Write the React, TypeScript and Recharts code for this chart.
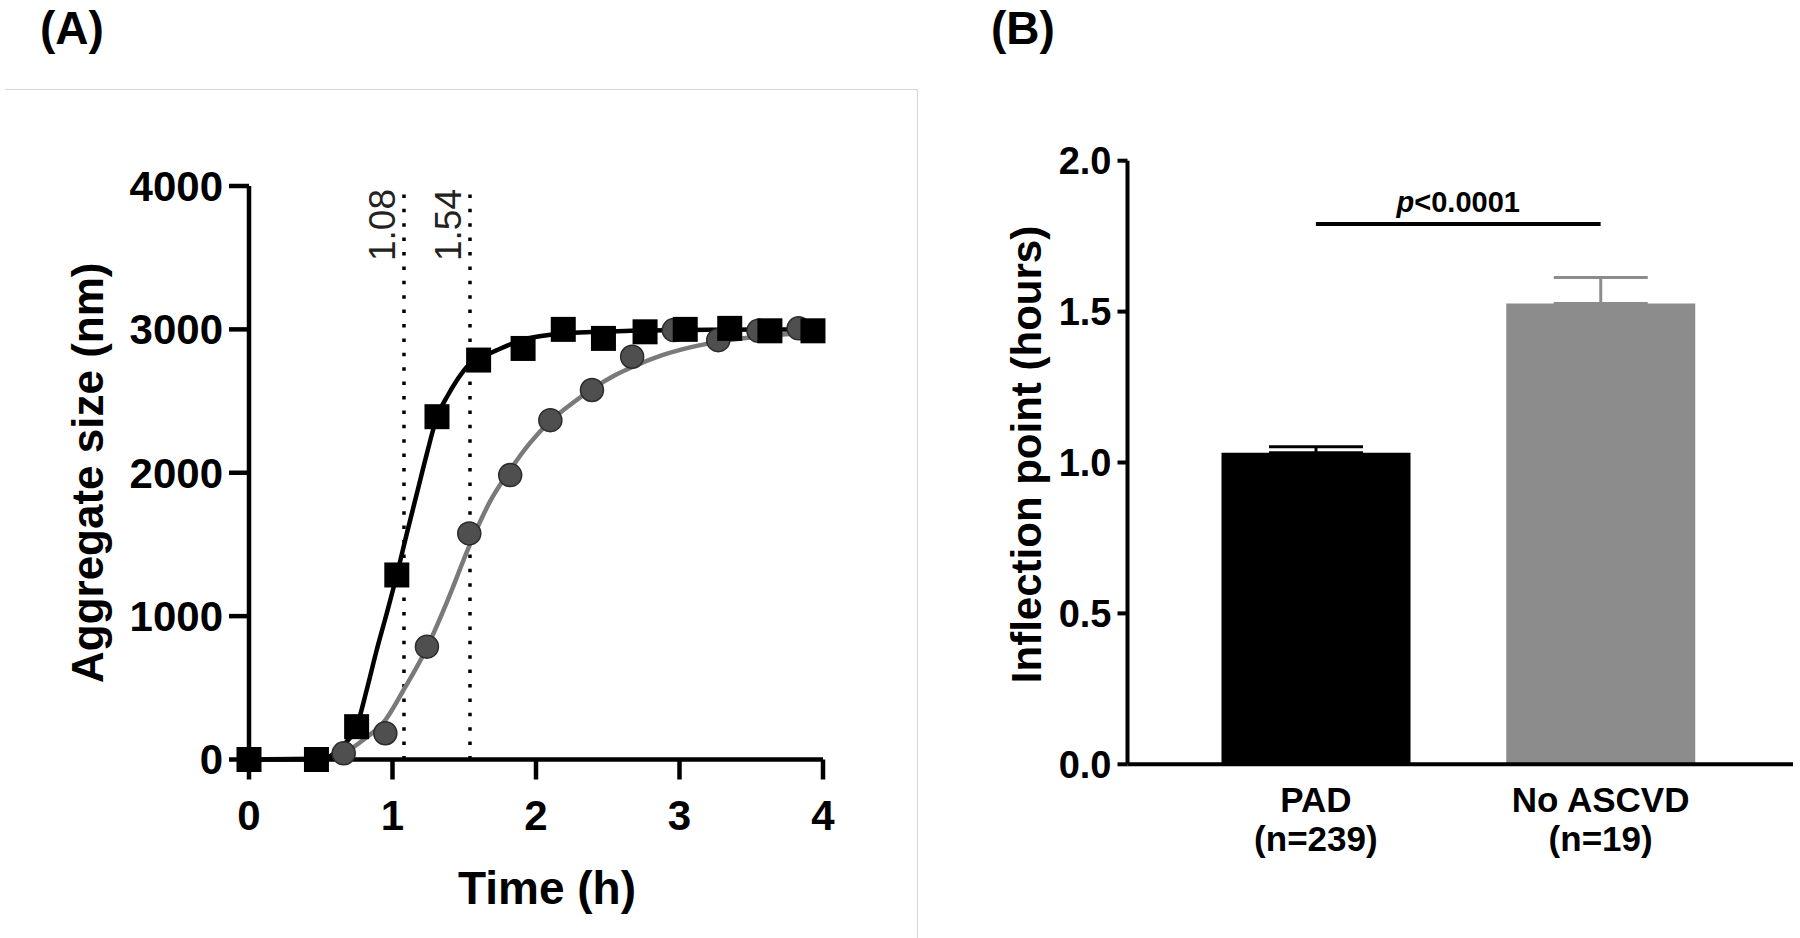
import {
  ComposedChart,
  BarChart,
  Bar,
  Cell,
  ErrorBar,
  Line,
  Scatter,
  XAxis,
  YAxis,
  ReferenceLine,
} from 'recharts';

const FONT = '"Liberation Sans", Arial, Helvetica, sans-serif';

// (A) aggregate size over time
const padTimes = [0, 0.47, 0.75, 1.03, 1.31, 1.6, 1.91, 2.19, 2.47, 2.76, 3.04, 3.35, 3.63, 3.93];
const padSizes = [0, 0, 229, 1287, 2391, 2786, 2867, 3000, 2937, 2983, 3000, 3007, 2990, 2990];
const ctrlTimes = [0.66, 0.95, 1.24, 1.535, 1.82, 2.1, 2.39, 2.67, 2.96, 3.27, 3.55, 3.83];
const ctrlSizes = [43, 183, 787, 1577, 1984, 2367, 2577, 2809, 2995, 2925, 2990, 3007];

// fitted curves
const padFitTimes = [0, 0.5, 0.56, 0.61, 0.67, 0.75, 0.82, 0.89, 0.96, 1.03, 1.1, 1.17, 1.24, 1.31, 1.38, 1.45, 1.53, 1.61, 1.73, 1.9, 2.19, 2.66, 3.2, 4.0];
const padFitSizes = [0, 2, 20, 55, 113, 229, 485, 764, 1020, 1287, 1577, 1856, 2135, 2391, 2530, 2647, 2751, 2800, 2856, 2925, 2972, 2990, 2998, 3000];
const ctrlFitTimes = [0, 0.5, 0.66, 0.8, 0.95, 1.08, 1.24, 1.38, 1.54, 1.68, 1.82, 1.96, 2.1, 2.26, 2.4, 2.55, 2.7, 2.88, 3.12, 3.35, 3.6, 4.0];
const ctrlFitSizes = [0, 10, 45, 140, 275, 490, 780, 1100, 1500, 1800, 2020, 2210, 2360, 2490, 2590, 2680, 2750, 2820, 2885, 2925, 2955, 2980];

const timeTicks = [0, 1, 2, 3, 4];
const sizeTicks = [0, 1000, 2000, 3000, 4000];
const inflections = [1.08, 1.54];

// (B) inflection point by group
const groups = ['PAD', 'No ASCVD'];
const groupN = ['(n=239)', '(n=19)'];
const inflectionMeans = [1.032, 1.527];
const inflectionSems = [0.02, 0.086];
const groupColors = ['#000000', '#8c8c8c'];
const hourTicks = [0, 0.5, 1, 1.5, 2];
const pText = '<0.0001';

const zip = (ts: number[], vs: number[]) => ts.map((t, i) => ({ t, v: vs[i] }));

const padPoints = zip(padTimes, padSizes);
const ctrlPoints = zip(ctrlTimes, ctrlSizes);
const padFit = zip(padFitTimes, padFitSizes);
const ctrlFit = zip(ctrlFitTimes, ctrlFitSizes);

const barData = groups.map((g, i) => ({
  group: g,
  mean: inflectionMeans[i],
  [`err${i}`]: [0, inflectionSems[i]],
}));

const squareShape = (p: any) => (
  <rect x={p.cx - 12.5} y={p.cy - 12.5} width={25} height={25} fill="#000" />
);

const circleShape = (p: any) => (
  <circle cx={p.cx} cy={p.cy} r={11.5} fill="#4f4f4f" stroke="#2b2b2b" strokeWidth={1.5} />
);

const inflectionLabel = (text: string) => (props: any) => {
  const vb = props.viewBox;
  if (!vb) return null;
  const x = vb.x - 9;
  const y = vb.y + 3;
  return (
    <text
      x={x}
      y={y}
      transform={`rotate(-90, ${x}, ${y})`}
      textAnchor="end"
      fontSize={37}
      fill="#222"
      fontFamily={FONT}
    >
      {text}
    </text>
  );
};

const pLabel = (props: any) => {
  const vb = props.viewBox;
  if (!vb) return null;
  return (
    <text
      x={vb.x + vb.width / 2}
      y={vb.y - 12}
      textAnchor="middle"
      fontSize={29}
      fontWeight={700}
      fill="#000"
      fontFamily={FONT}
    >
      <tspan fontStyle="italic">p</tspan>
      {pText}
    </text>
  );
};

const GroupTick = (props: any) => {
  const { x, y, payload } = props;
  const i = groups.indexOf(payload.value);
  return (
    <text x={x} y={y} textAnchor="middle" fontSize={35} fontWeight={700} fill="#000" fontFamily={FONT}>
      <tspan x={x} dy={47.5}>{payload.value}</tspan>
      <tspan x={x} dy={39}>{groupN[i]}</tspan>
    </text>
  );
};

const axisA = { stroke: '#000', strokeWidth: 4.5 };
const axisB = { stroke: '#000', strokeWidth: 4 };

function PanelA() {
  return (
    <ComposedChart width={880} height={938} margin={{ top: 186, right: 57, bottom: 28.5, left: 0 }}>
      <XAxis
        type="number"
        dataKey="t"
        domain={[0, 4]}
        ticks={timeTicks}
        height={150}
        axisLine={axisA}
        tickLine={axisA}
        tickSize={20}
        tickMargin={21}
        tick={{ fill: '#000', fontSize: 42, fontWeight: 700, fontFamily: FONT }}
        label={{
          value: 'Time (h)',
          position: 'insideBottom',
          offset: 6,
          dx: 11,
          fill: '#000',
          fontSize: 46,
          fontWeight: 700,
          fontFamily: FONT,
        }}
      />
      <YAxis
        type="number"
        dataKey="v"
        domain={[0, 4000]}
        ticks={sizeTicks}
        width={249}
        axisLine={axisA}
        tickLine={axisA}
        tickSize={20}
        tickMargin={6}
        tick={{ fill: '#000', fontSize: 42, fontWeight: 700, fontFamily: FONT }}
        label={{
          value: 'Aggregate size (nm)',
          angle: -90,
          position: 'insideLeft',
          offset: 87,
          fill: '#000',
          fontSize: 44,
          fontWeight: 700,
          fontFamily: FONT,
          style: { textAnchor: 'middle' },
        }}
      />
      {inflections.map((x) => (
        <ReferenceLine
          key={x}
          x={x}
          stroke="#000"
          strokeWidth={3.5}
          strokeDasharray="3.5 10.9"
          label={inflectionLabel(x.toFixed(2))}
        />
      ))}
      <Line
        data={ctrlFit}
        dataKey="v"
        type="monotone"
        stroke="#7a7a7a"
        strokeWidth={4.5}
        dot={false}
        activeDot={false}
        isAnimationActive={false}
      />
      <Scatter data={ctrlPoints} shape={circleShape} isAnimationActive={false} />
      <Line
        data={padFit}
        dataKey="v"
        type="monotone"
        stroke="#000"
        strokeWidth={4.5}
        dot={false}
        activeDot={false}
        isAnimationActive={false}
      />
      <Scatter data={padPoints} shape={squareShape} isAnimationActive={false} />
    </ComposedChart>
  );
}

function PanelB() {
  return (
    <BarChart
      width={900}
      height={938}
      data={barData}
      margin={{ top: 160.7, right: 7, bottom: 23.7, left: 0 }}
      barSize={189}
    >
      <XAxis
        dataKey="group"
        type="category"
        height={150}
        padding={{ left: 46, right: 50 }}
        axisLine={axisB}
        tickLine={false}
        tickSize={0}
        tickMargin={0}
        interval={0}
        tick={<GroupTick />}
      />
      <YAxis
        type="number"
        domain={[0, 2]}
        ticks={hourTicks}
        tickFormatter={(v: number) => v.toFixed(1)}
        width={227.5}
        axisLine={axisB}
        tickLine={axisB}
        tickSize={10}
        tickMargin={6}
        tick={{ fill: '#000', fontSize: 38, fontWeight: 700, fontFamily: FONT }}
        label={{
          value: 'Inflection point (hours)',
          angle: -90,
          position: 'insideLeft',
          offset: 126,
          dy: -8,
          fill: '#000',
          fontSize: 42,
          fontWeight: 700,
          fontFamily: FONT,
          style: { textAnchor: 'middle' },
        }}
      />
      <Bar dataKey="mean" isAnimationActive={false}>
        {barData.map((d, i) => (
          <Cell key={d.group} fill={groupColors[i]} />
        ))}
        <ErrorBar dataKey="err0" width={47} stroke={groupColors[0]} strokeWidth={3} isAnimationActive={false} />
        <ErrorBar dataKey="err1" width={47} stroke={groupColors[1]} strokeWidth={3} isAnimationActive={false} />
      </Bar>
      <ReferenceLine
        segment={[
          { x: groups[0], y: 1.79 },
          { x: groups[1], y: 1.79 },
        ]}
        stroke="#000"
        strokeWidth={4}
        label={pLabel}
      />
    </BarChart>
  );
}

export default function App() {
  const title = {
    position: 'absolute' as const,
    top: 5,
    fontSize: 46,
    lineHeight: '46px',
    fontWeight: 700,
    fontFamily: FONT,
    color: '#000',
  };
  return (
    <div style={{ position: 'absolute', left: 0, top: 0, width: 1800, height: 938, background: '#fff' }}>
      <div
        style={{
          position: 'absolute',
          left: 5,
          top: 89,
          width: 912,
          height: 849,
          borderTop: '1px solid #d6d6d6',
          borderRight: '1px solid #d6d6d6',
        }}
      />
      <div style={{ ...title, left: 40 }}>(A)</div>
      <div style={{ ...title, left: 991 }}>(B)</div>
      <div style={{ position: 'absolute', left: 0, top: 0 }}>
        <PanelA />
      </div>
      <div style={{ position: 'absolute', left: 900, top: 0 }}>
        <PanelB />
      </div>
    </div>
  );
}
